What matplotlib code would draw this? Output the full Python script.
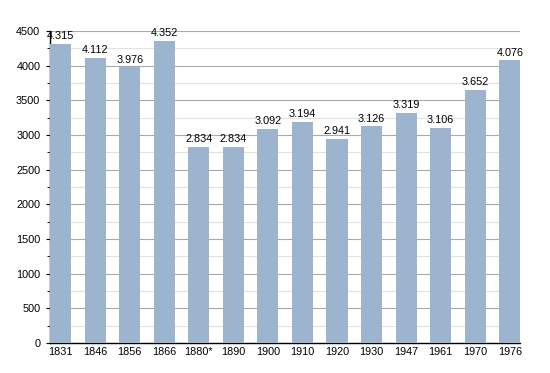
import matplotlib.pyplot as plt
from matplotlib.ticker import MultipleLocator

years = ['1831', '1846', '1856', '1866', '1880*', '1890', '1900', '1910',
         '1920', '1930', '1947', '1961', '1970', '1976']
population = [4315, 4112, 3976, 4352, 2834, 2834, 3092, 3194,
              2941, 3126, 3319, 3106, 3652, 4076]
labels = ['4.315', '4.112', '3.976', '4.352', '2.834', '2.834', '3.092', '3.194',
          '2.941', '3.126', '3.319', '3.106', '3.652', '4.076']

plt.rcParams['font.family'] = ['Liberation Sans', 'DejaVu Sans']

fig = plt.figure(figsize=(5.5, 3.73), dpi=100)
ax = fig.add_axes([0.091, 0.080, 0.855, 0.837])

w = 0.61
x = range(len(years))
ax.bar(x, population, width=w, color='#9db4cf', zorder=3)
for i, (v, t) in enumerate(zip(population, labels)):
    ax.text(i, v + 40, t, ha='center', va='bottom', fontsize=7.8, zorder=4)

ax.set_xlim(-w / 2, len(years) - 1 + w / 2)
ax.set_ylim(0, 4500)
ax.set_xticks(list(x))
ax.set_xticklabels(years)
ax.yaxis.set_major_locator(MultipleLocator(500))
ax.yaxis.set_minor_locator(MultipleLocator(250))
ax.grid(axis='y', which='major', color='#aaaaaa', linewidth=0.8, zorder=0)
ax.grid(axis='y', which='minor', color='#e2e2e2', linewidth=0.8, zorder=0)
ax.tick_params(axis='x', length=0, labelsize=7.8, pad=3)
ax.tick_params(axis='y', which='major', length=3, labelsize=7.8, pad=4)
ax.tick_params(axis='y', which='minor', length=2)
ax.spines['top'].set_visible(False)
ax.spines['right'].set_visible(False)
ax.spines['left'].set_linewidth(1)
ax.spines['bottom'].set_linewidth(1)

fig.savefig('out.png', dpi=100)
